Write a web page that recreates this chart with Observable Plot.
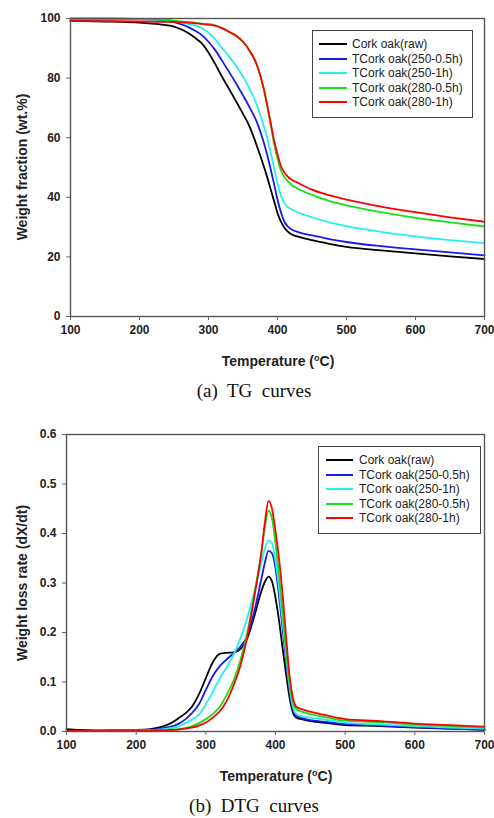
<!DOCTYPE html>
<html>
<head>
<meta charset="utf-8">
<script src="https://cdn.jsdelivr.net/npm/d3@7"></script>
<script src="https://cdn.jsdelivr.net/npm/@observablehq/plot@0.6"></script>
<style>
  html, body { margin: 0; padding: 0; background: #fff; }
  #wrap { position: relative; width: 494px; height: 818px; overflow: hidden; font-family: "Liberation Sans", Arial, sans-serif; }
  .chart { position: absolute; left: 0; }
  .ytitle { position: absolute; transform: translate(-50%, -50%) rotate(-90deg); white-space: nowrap; font-weight: bold; font-size: 14px; color: #222; }
  .xtitle { position: absolute; transform: translate(-50%, -50%); white-space: nowrap; font-weight: bold; font-size: 14px; color: #222; }
  .xtitle .sup { font-size: 9px; position: relative; top: -5px; }
  .caption { position: absolute; transform: translate(-50%, -50%); white-space: pre; font-family: "Liberation Serif", "Times New Roman", serif; font-size: 19px; color: #111; }
  .legend { position: absolute; border: 1.5px solid #444; background: #fff; box-sizing: border-box; }
  .legend .row { position: absolute; height: 14px; white-space: nowrap; font-size: 12px; color: #222; line-height: 14px; }
  .legend .sw { position: absolute; top: 6px; height: 2px; }
  .legend .lab { position: absolute; top: 0; }
</style>
</head>
<body>
<div id="wrap"></div>
<script>
// ---------- data ----------
const seriesNames = ["Cork oak(raw)", "TCork oak(250-0.5h)", "TCork oak(250-1h)", "TCork oak(280-0.5h)", "TCork oak(280-1h)"];
const seriesColors = ["#000000", "#1818f0", "#22f0f0", "#16e016", "#ff0000"];

const xTicks = [100, 200, 300, 400, 500, 600, 700];
const tgTicks = [0, 20, 40, 60, 80, 100];
const dtgTicks = [0, 0.1, 0.2, 0.3, 0.4, 0.5, 0.6];

// TG curves (weight fraction, wt.%)
const tgTemp = [100,150,200,230,250,260,270,280,290,300,310,320,330,340,350,360,370,380,385,390,395,400,405,410,415,420,430,450,475,500,550,600,650,700];
const tgRaw    = [99.2,99.0,98.6,98.0,97.3,96.4,95.2,93.6,91.7,88.6,84.6,80.3,76.3,72.2,68.0,63.5,57.3,50.5,46.8,42.8,38.8,34.7,31.8,29.8,28.5,27.6,26.8,25.6,24.4,23.4,22.2,21.2,20.2,19.3];
const tg250_05 = [99.9,99.9,99.8,99.5,98.8,98.1,97.2,96.0,94.5,92.2,89.3,85.7,82.0,78.2,74.2,70.0,65.3,58.5,54.3,49.5,44.5,39.2,35.0,31.8,30.2,29.3,28.3,27.2,26.0,25.0,23.6,22.5,21.5,20.5];
const tg250_1  = [100,100,99.9,99.6,99.2,98.7,98.2,97.7,96.8,95.2,92.9,90.0,87.2,84.1,80.5,76.2,71.0,64.0,60.0,55.1,50.0,44.7,40.6,38.0,36.7,36.0,34.9,33.3,31.6,30.3,28.4,26.9,25.6,24.6];
const tg280_05 = [100,100,99.9,99.6,99.3,99.0,98.8,98.6,98.3,98.1,97.7,96.8,95.5,94.2,92.2,89.0,84.5,76.5,70.8,64.5,58.0,53.0,49.0,46.8,45.4,44.2,42.8,40.8,38.8,37.3,35.0,33.1,31.6,30.2];
const tg280_1  = [99.2,99.1,99.0,98.9,98.9,98.8,98.6,98.4,98.2,97.9,97.5,96.7,95.5,94.2,92.2,89.0,84.5,76.5,71.0,65.2,59.2,54.5,50.5,48.3,46.9,46.0,44.8,42.6,40.7,39.2,36.9,35.0,33.3,31.8];

// DTG curves (weight loss rate, dX/dt)
const dtgTemp = [100,150,200,220,240,250,260,270,280,290,300,310,320,330,340,350,360,370,380,385,390,395,400,405,410,415,420,425,430,440,450,475,500,550,600,650,700];
const dtgRaw    = [0.005,0.002,0.003,0.005,0.011,0.017,0.026,0.036,0.050,0.075,0.108,0.140,0.157,0.159,0.160,0.167,0.190,0.235,0.285,0.303,0.313,0.303,0.270,0.225,0.170,0.118,0.070,0.038,0.028,0.024,0.021,0.017,0.013,0.011,0.008,0.006,0.004];
const dtg250_05 = [0.002,0.001,0.002,0.003,0.007,0.010,0.015,0.024,0.037,0.055,0.084,0.112,0.132,0.146,0.158,0.172,0.195,0.245,0.310,0.343,0.365,0.360,0.330,0.275,0.210,0.145,0.085,0.045,0.032,0.026,0.023,0.019,0.015,0.012,0.009,0.006,0.003];
const dtg250_1  = [0.001,0.001,0.002,0.003,0.005,0.007,0.010,0.016,0.024,0.034,0.055,0.080,0.107,0.130,0.156,0.190,0.232,0.285,0.342,0.370,0.386,0.380,0.345,0.290,0.225,0.155,0.092,0.050,0.035,0.030,0.028,0.023,0.018,0.014,0.011,0.008,0.006];
const dtg280_05 = [0.001,0.001,0.002,0.002,0.003,0.004,0.005,0.007,0.011,0.017,0.025,0.035,0.050,0.074,0.104,0.146,0.203,0.280,0.365,0.415,0.446,0.430,0.380,0.315,0.245,0.168,0.100,0.060,0.045,0.039,0.035,0.028,0.022,0.019,0.014,0.011,0.008];
const dtg280_1  = [0.001,0.001,0.002,0.002,0.002,0.003,0.004,0.006,0.008,0.012,0.018,0.028,0.041,0.062,0.094,0.135,0.195,0.275,0.365,0.425,0.466,0.450,0.405,0.350,0.280,0.195,0.115,0.068,0.050,0.044,0.040,0.032,0.025,0.021,0.016,0.013,0.010];

// ---------- build tables ----------
function table(temps, lists) {
  const rows = [];
  lists.forEach((vals, i) => vals.forEach((v, j) => rows.push({T: temps[j], v, s: seriesNames[i]})));
  return rows;
}
const tgData = table(tgTemp, [tgRaw, tg250_05, tg250_1, tg280_05, tg280_1]);
const dtgData = table(dtgTemp, [dtgRaw, dtg250_05, dtg250_1, dtg280_05, dtg280_1]);

const wrap = document.getElementById("wrap");

function makeChart({data, yDomain, yTicks, yFormat, top, height, mt, mb, ml, mr}) {
  const p = Plot.plot({
    width: 494, height,
    marginTop: mt, marginBottom: mb, marginLeft: ml, marginRight: mr,
    style: {fontFamily: "'Liberation Sans', Arial, sans-serif", fontSize: "12px", fontWeight: "bold", color: "#222", background: "white", overflow: "visible"},
    x: {domain: [100, 700]},
    y: {domain: yDomain},
    color: {domain: seriesNames, range: seriesColors},
    marks: [
      Plot.line(data, {x: "T", y: "v", z: "s", stroke: "s", curve: "monotone-x", strokeWidth: 1.8}),
      Plot.frame({stroke: "#555", strokeWidth: 1.4}),
      Plot.axisX({ticks: xTicks, tickSize: 4, tickPadding: 5, label: null, stroke: "#666"}),
      Plot.axisY({ticks: yTicks, tickFormat: yFormat, tickSize: 4, tickPadding: 6, label: null, stroke: "#666"})
    ]
  });
  p.classList.add("chart");
  p.style.top = top + "px";
  wrap.appendChild(p);
}

makeChart({data: tgData, yDomain: [0, 100], yTicks: tgTicks, yFormat: d3.format("d"), top: 0, height: 345, mt: 18, mb: 29, ml: 70, mr: 10});
makeChart({data: dtgData, yDomain: [0, 0.6], yTicks: dtgTicks, yFormat: d3.format(".1f"), top: 400, height: 360, mt: 34, mb: 29, ml: 66, mr: 10});

// ---------- titles, captions ----------
function addDiv(cls, html, x, y) {
  const d = document.createElement("div");
  d.className = cls;
  d.innerHTML = html;
  d.style.left = x + "px";
  d.style.top = y + "px";
  wrap.appendChild(d);
}
addDiv("ytitle", "Weight fraction (wt.%)", 22, 167);
addDiv("xtitle", 'Temperature (<span class="sup">o</span>C)', 278, 361);
addDiv("caption", "(a)  TG  curves", 254, 391);
addDiv("ytitle", "Weight loss rate (dX/dt)", 22, 583);
addDiv("xtitle", 'Temperature (<span class="sup">o</span>C)', 276, 776);
addDiv("caption", "(b)  DTG  curves", 254, 806);

// ---------- legends ----------
function addLegend(left, top, width, height, swL, swW, labL) {
  const box = document.createElement("div");
  box.className = "legend";
  Object.assign(box.style, {left: left + "px", top: top + "px", width: width + "px", height: height + "px"});
  seriesNames.forEach((name, i) => {
    const row = document.createElement("div");
    row.className = "row";
    row.style.top = (6 + i * 14.6) + "px";
    row.style.left = "0px";
    const sw = document.createElement("div");
    sw.className = "sw";
    Object.assign(sw.style, {left: swL + "px", width: swW + "px", background: seriesColors[i]});
    const lab = document.createElement("div");
    lab.className = "lab";
    lab.style.left = labL + "px";
    lab.textContent = name;
    row.appendChild(sw);
    row.appendChild(lab);
    box.appendChild(row);
  });
  wrap.appendChild(box);
}
addLegend(312, 30, 161, 88, 6, 28, 39);
addLegend(318, 446, 163, 88, 7, 27, 40);
</script>
</body>
</html>
